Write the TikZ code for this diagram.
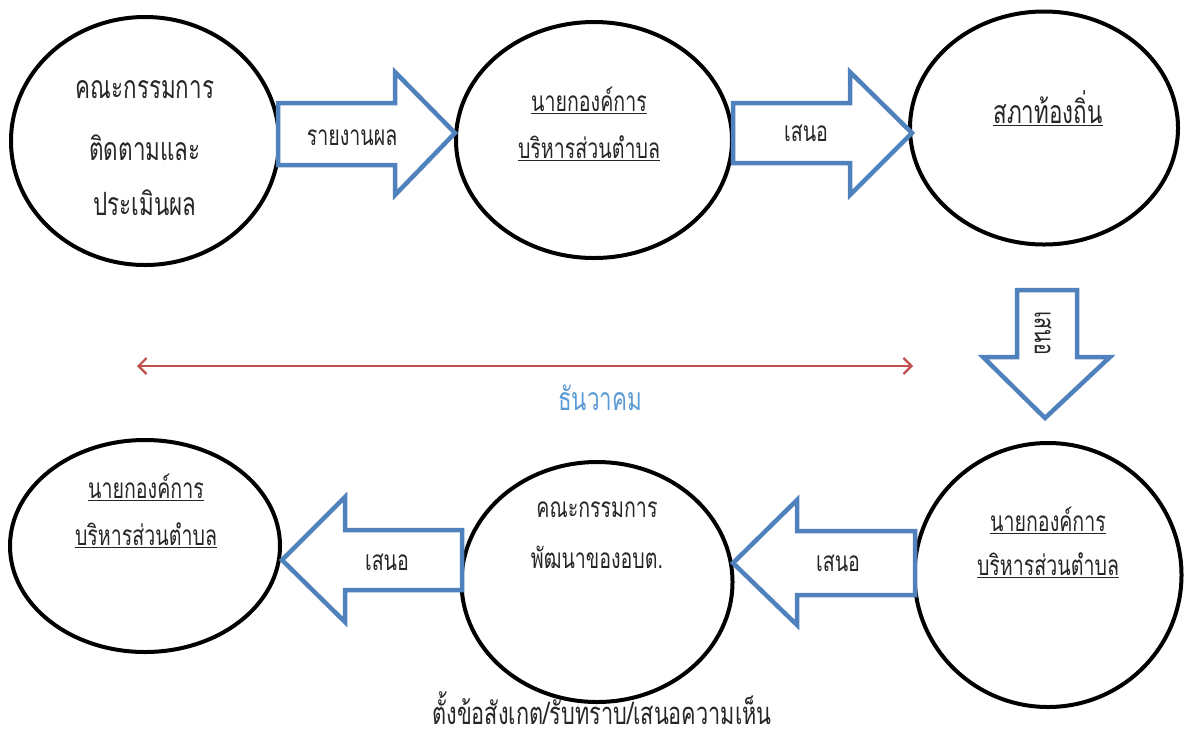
\documentclass[tikz,border=0pt]{standalone}
\usepackage{fontspec}
\newfontfamily\thaifont[Script=Thai,FakeStretch=0.7]{Loma}
\usetikzlibrary{shapes.geometric,arrows.meta}
\definecolor{arrblue}{HTML}{4F81BD}
\definecolor{lblue}{HTML}{5B9BD5}
\definecolor{dred}{HTML}{C0504D}
\tikzset{
  oval/.style={draw=black, line width=4pt, ellipse, inner sep=0pt},
  bigarrow/.style={draw=arrblue, line width=4.5pt, line join=miter, fill=white},
  txt/.style={font=\thaifont\fontsize{32}{36}\selectfont, text=black!85, inner sep=0pt, anchor=center},
  smalltxt/.style={font=\thaifont\fontsize{28}{32}\selectfont, text=black!85, inner sep=0pt, anchor=center}
}
\begin{document}
\begin{tikzpicture}[x=1pt,y=-1pt]
\useasboundingbox (0,0) rectangle (1185,740);
% ellipses
\node[oval, minimum width=268, minimum height=248] (e1) at (145,141) {};
\node[oval, minimum width=276, minimum height=236] (e2) at (594,140) {};
\node[oval, minimum width=268, minimum height=233] (e3) at (1044,128) {};
\node[oval, minimum width=270, minimum height=212] (e4) at (145,546) {};
\node[oval, minimum width=271, minimum height=240] (e5) at (597,582) {};
\node[oval, minimum width=267, minimum height=264] (e6) at (1048,575) {};
% big arrows
\draw[bigarrow] (278,103) -- (395,103) -- (395,72) -- (455,133) -- (395,195) -- (395,165) -- (278,165) -- cycle;
\draw[bigarrow] (733,103) -- (850,103) -- (850,72) -- (912,133) -- (850,195) -- (850,163) -- (733,163) -- cycle;
\draw[bigarrow] (1017,290) -- (1077,290) -- (1077,357) -- (1110,357) -- (1045,418) -- (983,357) -- (1017,357) -- cycle;
\draw[bigarrow] (462,530) -- (345,530) -- (345,497) -- (282,560) -- (345,622) -- (345,590) -- (462,590) -- cycle;
\draw[bigarrow] (915,531) -- (797,531) -- (797,500) -- (733,563) -- (797,625) -- (797,595) -- (915,595) -- cycle;
% arrow labels
\node[smalltxt] (a1) at (352,138) {รายงานผล};
\node[smalltxt] (a2) at (806,133) {เสนอ};
\node[smalltxt, rotate=-90] (a3) at (1043,333) {เสนอ};
\node[smalltxt] (a4) at (387,562) {เสนอ};
\node[smalltxt] (a5) at (838,563) {เสนอ};
% ellipse texts
\node[txt] (t1a) at (145,90) {คณะกรรมการ};
\node[txt] (t1b) at (145,148) {ติดตามและ};
\node[txt] (t1c) at (145,203) {ประเมินผล};
\node[smalltxt] (t2a) at (589,100) {\underline{นายกองค์การ}};
\node[smalltxt] (t2b) at (589,148) {\underline{บริหารส่วนตำบล}};
\node[txt] (t3a) at (1048,108) {\underline{สภาท้องถิ่น}};
\node[smalltxt] (t4a) at (146,487) {\underline{นายกองค์การ}};
\node[smalltxt] (t4b) at (146,535) {\underline{บริหารส่วนตำบล}};
\node[smalltxt] (t5a) at (597,510) {คณะกรรมการ};
\node[smalltxt] (t5b) at (597,557) {พัฒนาของอบต.};
\node[smalltxt] (t6a) at (1048,520) {\underline{นายกองค์การ}};
\node[smalltxt] (t6b) at (1048,565) {\underline{บริหารส่วนตำบล}};
% timeline
\coordinate (r1) at (137,366);
\coordinate (r2) at (913,366);
\draw[dred, line width=2.2pt, {Straight Barb[length=8pt,width=16pt]}-{Straight Barb[length=8pt,width=16pt]}] (r1) -- (r2);
\node[txt, text=lblue] (month) at (600,398) {ธันวาคม};
\node[txt, font=\thaifont\fontsize{31}{35}\selectfont] (bottom) at (602,708) {ตั้งข้อสังเกต/รับทราบ/เสนอความเห็น};
\end{tikzpicture}
\end{document}
